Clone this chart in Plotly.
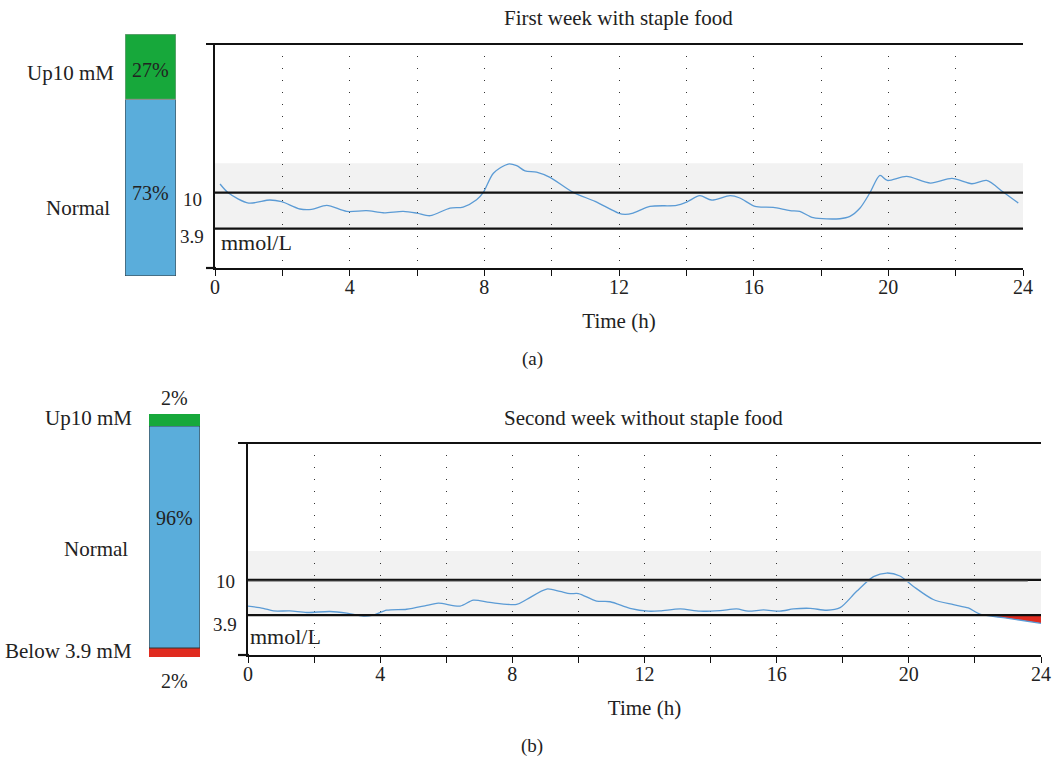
import plotly.graph_objects as go

# ---------------- data ----------------
# Panel (a): first week with staple food (hours, mmol/L)
hours_a = [0.15, 0.4, 1.0, 1.63, 1.98, 2.52, 2.87, 3.32, 3.91, 4.5, 5.0, 5.59, 5.99, 6.39,
           6.98, 7.37, 7.77, 7.97, 8.27, 8.71, 8.96, 9.21, 9.55, 9.95, 10.64, 11.29, 11.98,
           12.18, 12.42, 12.92, 13.71, 14.01, 14.4, 14.75, 15.3, 15.59, 16.04, 16.58, 17.08,
           17.37, 17.77, 18.56, 18.86, 19.16, 19.45, 19.75, 19.97, 20.54, 21.25, 21.89, 22.48,
           22.92, 23.41, 23.86]
glucose_a = [11.47, 9.95, 8.25, 8.76, 8.47, 7.24, 7.17, 7.85, 6.83, 6.95, 6.6, 6.83, 6.55, 6.1,
             7.4, 7.57, 8.8, 10.05, 13.3, 14.86, 14.58, 13.7, 13.5, 12.6, 10.05, 8.53, 6.55,
             6.33, 6.55, 7.68, 7.85, 8.42, 9.49, 8.76, 9.49, 9.1, 7.68, 7.5, 6.95,
             6.83, 5.76, 5.59, 5.98, 7.4, 9.95, 12.93, 12.08, 12.76, 11.64, 12.42, 11.52,
             12.08, 10.12, 8.25]

# Panel (b): second week without staple food
hours_b = [0.0, 0.46, 0.77, 1.27, 1.78, 2.48, 2.99, 3.49, 3.79, 4.2, 4.8, 5.41, 5.76, 6.42,
           6.82, 7.32, 8.13, 8.43, 9.04, 9.44, 9.75, 10.0, 10.55, 10.96, 11.56, 12.12, 12.47,
           13.08, 13.68, 14.29, 14.79, 15.14, 15.6, 16.1, 16.51, 17.01, 17.52, 17.92, 18.42,
           18.93, 19.33, 19.73, 20.14, 20.74, 21.35, 21.8, 22.15, 22.96, 24.0]
glucose_b = [5.47, 5.08, 4.63, 4.63, 4.36, 4.53, 4.24, 3.73, 3.9, 4.75, 4.92, 5.59, 5.98, 5.47,
             6.49, 6.1, 5.76, 6.61, 8.42, 8.02, 7.63, 7.63, 6.33, 6.22, 5.08, 4.58, 4.63,
             4.97, 4.58, 4.69, 4.97, 4.58, 4.8, 4.58, 4.97, 5.08, 4.75, 5.2, 8.02,
             10.56, 11.19, 10.68, 8.87, 6.61, 5.71, 5.14, 4.07, 3.39, 2.49]

low_limit = 3.9
high_limit = 10.0
band_top = 15.0

# time-in-range bars
bar_a_labels = ["Normal", "Up10 mM"]
bar_a_values = [73, 27]
bar_a_text = ["73%", "27%"]

bar_b_labels = ["Below 3.9 mM", "Normal", "Up10 mM"]
bar_b_heights = [3.7, 91.4, 4.9]      # drawn segment heights
bar_b_text = ["2%", "96%", "2%"]

x_ticks = list(range(0, 25, 2))
x_ticktext = [str(t) if t % 4 == 0 else "" for t in x_ticks]

# ---------------- style ----------------
W, H = 1054, 760
FONT = "Liberation Serif"
TXT = "#222"
BLUE_LINE = "#5b9bd5"
BAR_BLUE = "#5aaddb"
BAR_GREEN = "#17a83b"
BAR_RED = "#e02b1f"

def px(x):
    return x / W

def py(y):
    return 1 - y / H

fig = go.Figure()

# ---- panel (a) line ----
fig.add_trace(go.Scatter(x=hours_a, y=glucose_a, mode="lines",
                         line=dict(color=BLUE_LINE, width=1.3, shape="spline", smoothing=0.8),
                         xaxis="x", yaxis="y", showlegend=False, hoverinfo="x+y"))

# ---- panel (b) line + red below-range fill ----
low_h = [h for h, g in zip(hours_b, glucose_b) if h >= 22.15]
low_g = [g for h, g in zip(hours_b, glucose_b) if h >= 22.15]
fig.add_trace(go.Scatter(x=low_h, y=[low_limit] * len(low_h), mode="lines", line=dict(width=0),
                         xaxis="x2", yaxis="y2", showlegend=False, hoverinfo="skip"))
fig.add_trace(go.Scatter(x=low_h, y=low_g, mode="lines", line=dict(width=0), fill="tonexty",
                         fillcolor=BAR_RED, xaxis="x2", yaxis="y2", showlegend=False, hoverinfo="skip"))
fig.add_trace(go.Scatter(x=hours_b, y=glucose_b, mode="lines",
                         line=dict(color=BLUE_LINE, width=1.3, shape="spline", smoothing=0.8),
                         xaxis="x2", yaxis="y2", showlegend=False, hoverinfo="x+y"))

# ---- bars (a) ----
colors_a = [BAR_BLUE, BAR_GREEN]
outline_a = ["#333333", "#9a9a9a"]
base = 0
for lab, v, c, oc in zip(bar_a_labels, bar_a_values, colors_a, outline_a):
    fig.add_trace(go.Bar(x=[0], y=[v], base=[base], width=[1],
                         marker=dict(color=c, line=dict(color=oc, width=1)),
                         xaxis="x3", yaxis="y3", showlegend=False, name=lab))
    base += v

# ---- bars (b) ----
colors_b = [BAR_RED, BAR_BLUE, BAR_GREEN]
base = 0
for lab, v, c in zip(bar_b_labels, bar_b_heights, colors_b):
    fig.add_trace(go.Bar(x=[0], y=[v], base=[base], width=[1],
                         marker=dict(color=c, line=dict(color="#333333", width=1 if c == BAR_BLUE else 0)),
                         xaxis="x4", yaxis="y4", showlegend=False, name=lab))
    base += v

tick_font = dict(family=FONT, size=20, color=TXT)

def xaxis_cfg(dom, anchor):
    return dict(domain=dom, anchor=anchor, range=[0, 24], tickvals=x_ticks, ticktext=x_ticktext,
                ticks="outside", ticklen=6, tickwidth=1.2, tickcolor="#111", automargin=False,
                ticklabelstandoff=-6,
                showline=True, linewidth=2.2, linecolor="#111",
                showgrid=True, gridcolor="#333", gridwidth=1, griddash="1px,11px", zeroline=False,
                tickfont=tick_font, fixedrange=True,
                title=dict(text="Time (h)", font=dict(family=FONT, size=21, color=TXT), standoff=16))

def yaxis_cfg(dom, anchor, rng):
    return dict(domain=dom, anchor=anchor, range=rng, showline=True, linewidth=2.2, linecolor="#111",
                showticklabels=False, showgrid=False, zeroline=False, ticks="", automargin=False,
                fixedrange=True)

def hidden_axis(dom, anchor, rng):
    return dict(domain=dom, anchor=anchor, range=rng, visible=False, automargin=False, fixedrange=True)

ya_range = [-2.76, 35.2]
yb_range = [-3.0, 33.7]

fig.update_layout(
    width=W, height=H, autosize=False, margin=dict(l=0, r=0, t=0, b=0, autoexpand=False),
    plot_bgcolor="rgba(0,0,0,0)", paper_bgcolor="white", barmode="overlay",
    xaxis=xaxis_cfg([px(215), px(1023)], "y"),
    yaxis=yaxis_cfg([py(268), py(44)], "x", ya_range),
    xaxis2=xaxis_cfg([px(248), px(1041)], "y2"),
    yaxis2=yaxis_cfg([py(655), py(443)], "x2", yb_range),
    xaxis3=hidden_axis([px(125), px(176)], "y3", [-0.5, 0.5]),
    yaxis3=hidden_axis([py(276), py(34)], "x3", [0, 100]),
    xaxis4=hidden_axis([px(149), px(200)], "y4", [-0.5, 0.5]),
    yaxis4=hidden_axis([py(657), py(414)], "x4", [0, 100]),
)

shapes = []
for xr, yr in (("x", "y"), ("x2", "y2")):
    # normal range band
    shapes.append(dict(type="rect", xref=xr + " domain", yref=yr, x0=0, x1=1, y0=low_limit, y1=band_top,
                       fillcolor="#f2f2f2", line=dict(width=0), layer="below"))
    for lv in (high_limit, low_limit):
        shapes.append(dict(type="line", xref=xr + " domain", yref=yr, x0=0, x1=1, y0=lv, y1=lv,
                           line=dict(color="#111", width=2.2), layer="above"))
# gray reference line in panel (b)
shapes.append(dict(type="line", xref="x2", yref="y2", x0=0, x1=23.6, y0=9.75, y1=9.75,
                   line=dict(color="#a0a0a0", width=1.2), layer="above"))
# top frame lines and left stubs
shapes.append(dict(type="line", xref="paper", yref="paper", x0=px(206), x1=px(1023), y0=py(44), y1=py(44),
                   line=dict(color="#111", width=2.2)))
shapes.append(dict(type="line", xref="paper", yref="paper", x0=px(206), x1=px(216), y0=py(268), y1=py(268),
                   line=dict(color="#111", width=2.2)))
shapes.append(dict(type="line", xref="paper", yref="paper", x0=px(238), x1=px(1041), y0=py(443), y1=py(443),
                   line=dict(color="#111", width=2.2)))
shapes.append(dict(type="line", xref="paper", yref="paper", x0=px(238), x1=px(249), y0=py(655), y1=py(655),
                   line=dict(color="#111", width=2.2)))
fig.update_layout(shapes=shapes)

ann = []
def A(text, x, y, xanchor="center", size=20):
    ann.append(dict(text=text, x=x, y=y, xref="paper", yref="paper", xanchor=xanchor, yanchor="middle",
                    showarrow=False, font=dict(family=FONT, size=size, color=TXT)))

A("First week with staple food", px(618), py(18), size=21)
A("Second week without staple food", px(643), py(418), size=21)
A("(a)", px(532), py(359), size=19)
A("(b)", px(532), py(746), size=19)
# y labels
A("10", px(204), py(199), xanchor="right", size=19)
A("3.9", px(206), py(236), xanchor="right", size=19)
A("mmol/L", px(219), py(243), xanchor="left", size=22)
A("10", px(237), py(581), xanchor="right", size=19)
A("3.9", px(239), py(624), xanchor="right", size=19)
A("mmol/L", px(248), py(636), xanchor="left", size=22)
# bar category labels
A("Up10 mM", px(116), py(73), xanchor="right", size=21)
A("Normal", px(112), py(208), xanchor="right", size=21)
A("Up10 mM", px(134), py(418), xanchor="right", size=21)
A("Normal", px(130), py(549), xanchor="right", size=21)
A("Below 3.9 mM", px(134), py(651), xanchor="right", size=21)
# bar percentages
cum = 0
for v, t in zip(bar_a_values, bar_a_text):
    ann.append(dict(text=t, x=0, y=cum + v / 2 - (2 if v > 50 else 1.5), xref="x3", yref="y3", showarrow=False,
                    font=dict(family=FONT, size=20, color=TXT)))
    cum += v
A(bar_b_text[2], px(174), py(398), size=20)
A(bar_b_text[1], px(174), py(518), size=20)
A(bar_b_text[0], px(174), py(681), size=20)
fig.update_layout(annotations=ann)

post = ("document.documentElement.style.overflow='hidden';"
        "document.body.style.margin='0';document.body.style.overflow='hidden';")
fig.write_html("out.html", config=dict(displayModeBar=False), post_script=post)
